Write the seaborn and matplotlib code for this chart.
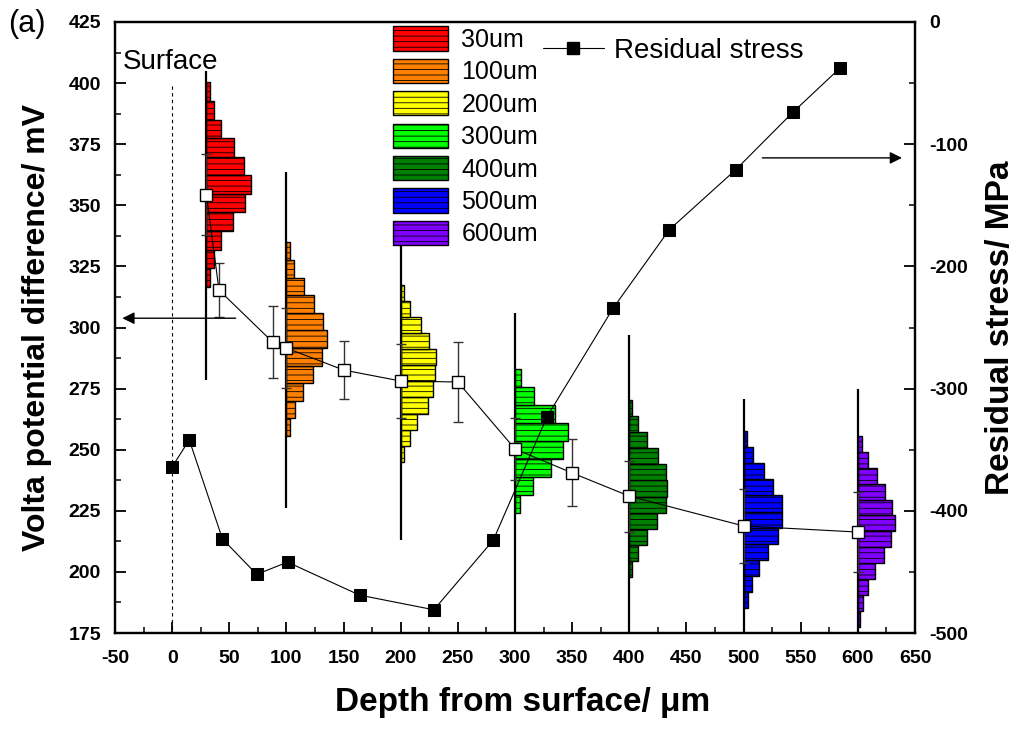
import numpy as np
import pandas as pd
import matplotlib
matplotlib.use("Agg")
import matplotlib.pyplot as plt
import seaborn as sns
from matplotlib.patches import Patch
from matplotlib.lines import Line2D
from matplotlib.ticker import MultipleLocator

sns.set_theme(style="ticks")
plt.rcParams["font.family"] = ["Liberation Sans", "DejaVu Sans"]
plt.rcParams["hatch.linewidth"] = 0.6
plt.rcParams["text.color"] = "black"
plt.rcParams["axes.labelcolor"] = "black"
plt.rcParams["xtick.color"] = "black"
plt.rcParams["ytick.color"] = "black"
plt.rcParams["axes.edgecolor"] = "black"

# ---------------- data ----------------
# histogram depths (um), labels, colours
hist_depth = [30, 100, 200, 300, 400, 500, 600]
hist_labels = ["30um", "100um", "200um", "300um", "400um", "500um", "600um"]
hist_colors = ["#FF0000", "#FF8000", "#FFFF00", "#00FF00", "#008000", "#0000FF", "#8000FF"]
# lowest bin edge (mV) and bin width (mV) per histogram
hist_start = [316.7, 255.6, 245.1, 224.0, 197.8, 185.1, 177.6]
hist_binw = [7.6, 7.2, 6.57, 7.4, 6.6, 6.6, 6.5]
# bar lengths (frequency, drawn in depth units), bottom bin to top bin
freq_30 = [2.9, 6.4, 12.9, 23.0, 34.1, 39.4, 33.2, 23.9, 12.9, 6.4, 3.5]
freq_100 = [3.5, 7.9, 14.3, 23.4, 31.2, 35.6, 32.1, 24.5, 15.1, 7.0, 2.9]
freq_200 = [2.9, 7.9, 14.6, 23.9, 28.3, 29.7, 30.6, 24.8, 17.8, 8.5, 2.9]
freq_300 = [4.4, 16.0, 31.2, 42.3, 46.6, 35.0, 16.9, 5.0]
freq_400 = [2.4, 7.3, 15.1, 23.9, 32.1, 33.0, 32.1, 24.8, 15.1, 7.3, 2.4]
freq_500 = [3.5, 7.3, 13.7, 21.0, 30.4, 33.2, 33.2, 26.0, 18.1, 7.9, 2.6]
freq_600 = [1.7, 4.4, 8.7, 14.9, 22.7, 28.6, 32.4, 29.5, 23.4, 16.4, 8.7, 3.8]
hist_freqs = [freq_30, freq_100, freq_200, freq_300, freq_400, freq_500, freq_600]
# vertical baseline extents of each histogram (mV)
base_top = [405.0, 363.6, 333.3, 306.0, 297.0, 270.7, 275.0]
base_bottom = [278.5, 226.0, 213.0, 175.0, 175.0, 175.0, 175.0]

# Volta potential mean values with error bars
volta_depth = [30, 41, 88, 100, 150, 200, 250, 300, 350, 400, 500, 600]
volta_mean = [354.4, 315.3, 294.0, 291.6, 282.6, 278.1, 277.7, 250.3, 240.5, 231.0, 218.8, 216.3]
volta_err = [16.4, 11.0, 14.7, 16.4, 11.7, 15.3, 16.5, 12.5, 13.7, 14.5, 15.0, 16.2]

# Residual stress
rs_depth = [0, 15, 44, 74, 101, 164, 229, 281, 328, 386, 435, 493, 543, 584]
rs_value = [-364, -342, -423, -452, -442, -469, -481, -424, -323, -234, -170, -121, -74, -38]

x_ticks = [-50, 0, 50, 100, 150, 200, 250, 300, 350, 400, 450, 500, 550, 600, 650]
y_ticks = [175, 200, 225, 250, 275, 300, 325, 350, 375, 400, 425]
y2_ticks = [-500, -400, -300, -200, -100, 0]

# ---------------- figure ----------------
fig = plt.figure(figsize=(10.22, 7.31), dpi=100)
ax = fig.add_axes([115 / 1022, 1 - 633 / 731, 800 / 1022, 611 / 731])
ax2 = ax.twinx()

# histograms
for d, col, s0, bw, fr, bt, bb in zip(hist_depth, hist_colors, hist_start, hist_binw,
                                      hist_freqs, base_top, base_bottom):
    centers = [s0 + bw * (k + 0.5) for k in range(len(fr))]
    ax.barh(centers, fr, height=bw, left=d, color=col, edgecolor="black",
            linewidth=1.0, hatch="---", zorder=2)
    ax.vlines(d, bb, bt, color="black", lw=1.6, zorder=3)

# Volta potential error bars + line
ax.errorbar(volta_depth, volta_mean, yerr=volta_err, fmt="none", ecolor="#333333",
            elinewidth=1.0, capsize=3.6, capthick=1.0, zorder=4)
vdf = pd.DataFrame({"depth": volta_depth, "volta": volta_mean})
sns.lineplot(data=vdf, x="depth", y="volta", ax=ax, color="black", lw=0.8,
             marker="s", markersize=9, markerfacecolor="white",
             markeredgecolor="black", markeredgewidth=1.0, zorder=5)

# Residual stress on twin axis
rdf = pd.DataFrame({"depth": rs_depth, "stress": rs_value})
sns.lineplot(data=rdf, x="depth", y="stress", ax=ax2, color="black", lw=0.8,
             marker="s", markersize=8, markerfacecolor="black",
             markeredgecolor="black", zorder=5)

# dashed surface line, text
ax.plot([0, 0], [399, 175], ls=(0, (3, 3)), lw=0.8, color="black", zorder=1)
ax.text(-43, 408.6, "Surface", fontsize=20, va="center", ha="left", zorder=6)

# arrows
ax.annotate("", xy=(-46, 303.8), xytext=(58, 303.8),
            arrowprops=dict(arrowstyle="-|>", color="black", lw=1.0, mutation_scale=18),
            zorder=6)
ax.annotate("", xy=(641, 369.4), xytext=(514, 369.4),
            arrowprops=dict(arrowstyle="-|>", color="black", lw=1.0, mutation_scale=18),
            zorder=6)

# axes limits/ticks
ax.set_xlim(-50, 650)
ax.set_ylim(175, 425)
ax2.set_ylim(-500, 0)
ax.set_xticks(x_ticks)
ax.set_xticklabels([str(v) for v in x_ticks], fontweight="bold", fontsize=14)
ax.set_yticks(y_ticks)
ax.set_yticklabels([str(v) for v in y_ticks], fontweight="bold", fontsize=14)
ax2.set_yticks(y2_ticks)
ax2.set_yticklabels([str(v) for v in y2_ticks], fontweight="bold", fontsize=14)
ax.xaxis.set_minor_locator(MultipleLocator(25))
ax.yaxis.set_minor_locator(MultipleLocator(12.5))
ax2.yaxis.set_minor_locator(MultipleLocator(50))
for a in (ax, ax2):
    a.tick_params(which="major", direction="in", length=8, width=1.3, colors="black")
    a.tick_params(which="minor", direction="in", length=4.5, width=1.1, colors="black")
ax.tick_params(axis="x", which="both", top=False, pad=12)
ax.tick_params(axis="y", which="both", right=False, pad=10)
ax2.tick_params(axis="y", which="both", left=False, right=True, pad=10)
for a in (ax, ax2):
    for sp in a.spines.values():
        sp.set_linewidth(1.6)
        sp.set_color("black")
        sp.set_visible(True)

ax.set_xlabel("Depth from surface/ \u03bcm", fontsize=24, fontweight="bold", color="black")
ax.set_ylabel("Volta potential difference/ mV", fontsize=23, fontweight="bold", color="black")
ax2.set_ylabel("Residual stress/ MPa", fontsize=24, fontweight="bold", color="black")
ax.xaxis.set_label_coords(0.51, -0.088)
ax.yaxis.set_label_coords(-0.079, 0.5)
ax2.yaxis.set_label_coords(1.087, 0.5)

# legends
hist_handles = [Patch(facecolor=c, edgecolor="black", hatch="---", linewidth=1.0)
                for c in hist_colors]
leg1 = ax2.legend(hist_handles, hist_labels, loc="upper left",
                  bbox_to_anchor=((390 - 115) / 800, 0.997), frameon=False,
                  fontsize=18, handlelength=2.2, handleheight=1.12,
                  labelspacing=0.27, handletextpad=0.55, borderpad=0.1,
                  borderaxespad=0, labelcolor="black")
ax2.add_artist(leg1)
rs_handle = Line2D([], [], color="black", lw=0.8, marker="s", markersize=8,
                   markerfacecolor="black")
ax2.legend([rs_handle], ["Residual stress"], loc="upper left",
           bbox_to_anchor=((540 - 115) / 800, 0.978), frameon=False, fontsize=20,
           handlelength=2.2, handletextpad=0.35, borderpad=0.1, borderaxespad=0,
           labelcolor="black")

fig.text(8 / 1022, 1 - 24 / 731, "(a)", fontsize=22, va="center", ha="left", color="black")

fig.savefig("out.png", dpi=100)
